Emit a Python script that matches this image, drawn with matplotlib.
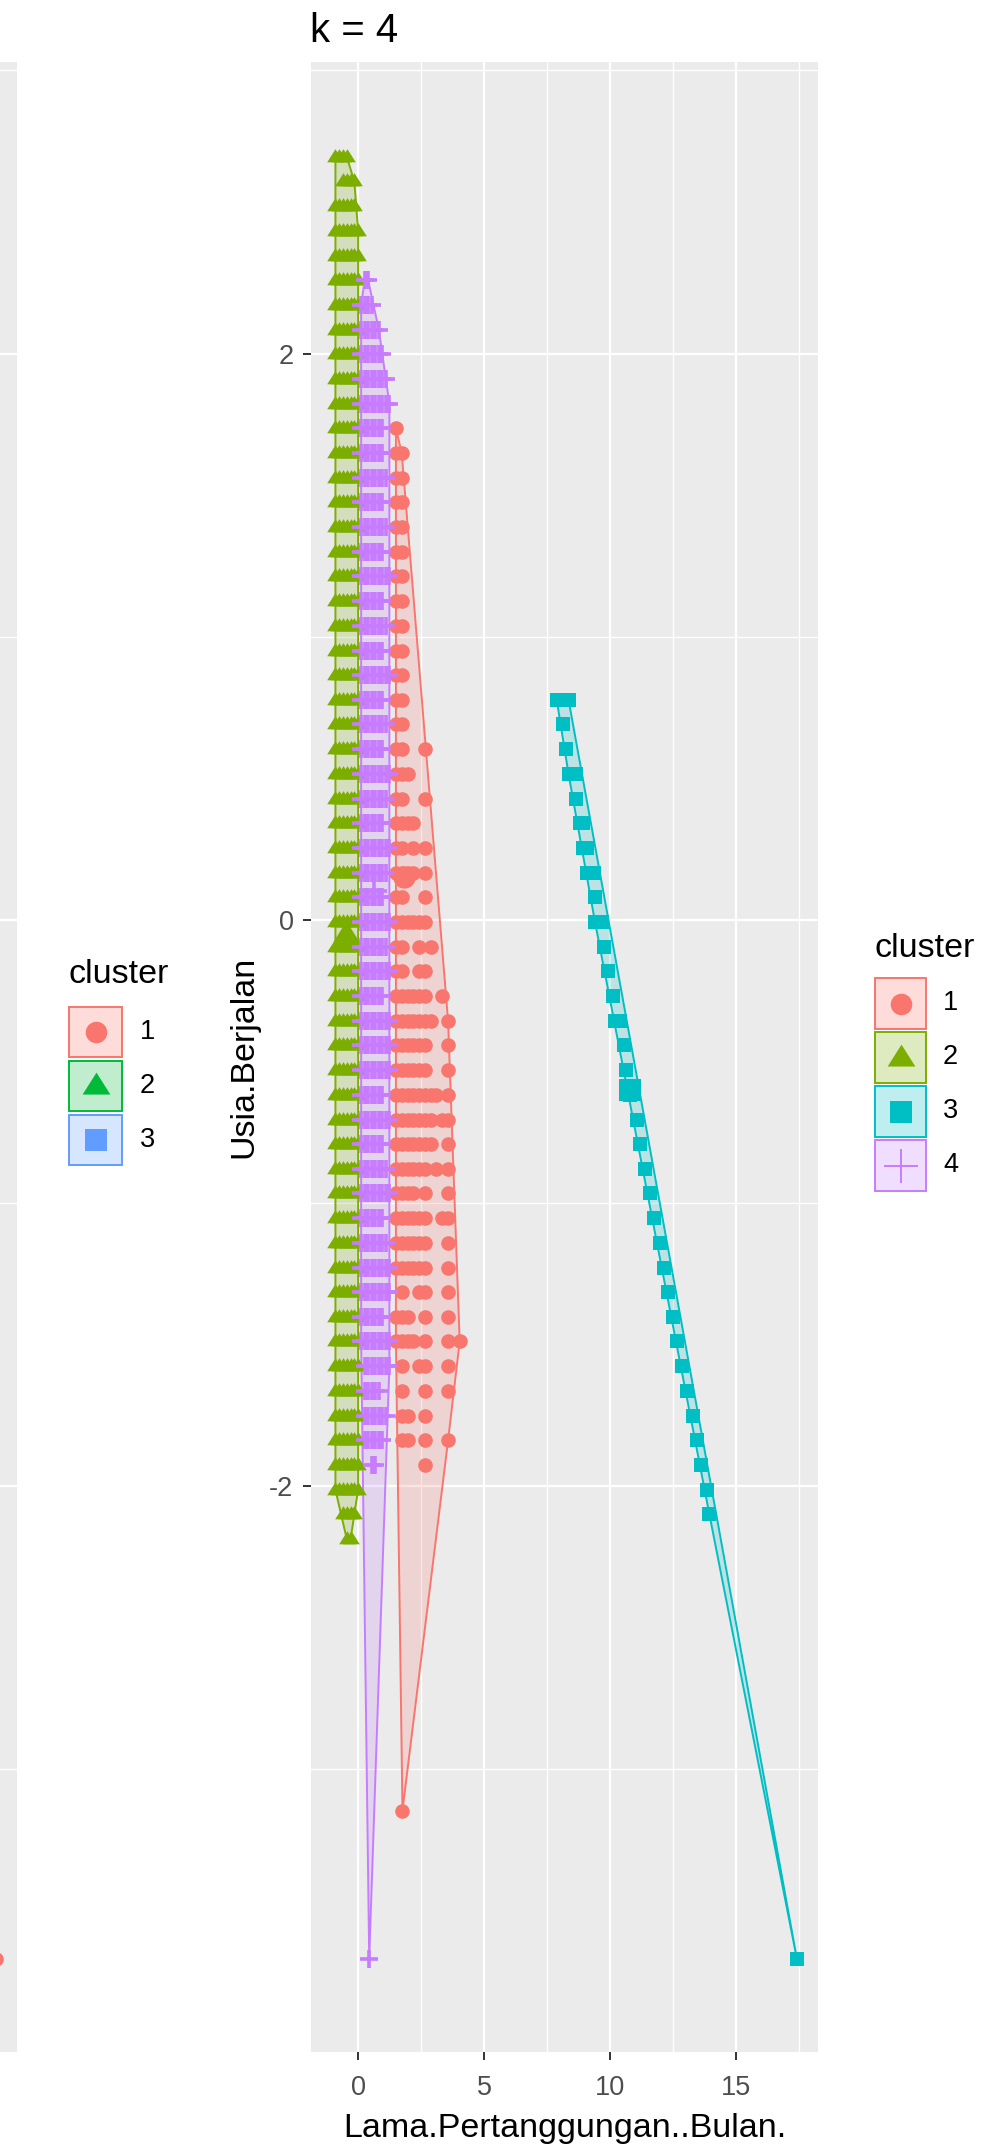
import matplotlib
matplotlib.use('Agg')
import matplotlib.pyplot as plt
import numpy as np
from matplotlib.colors import to_rgba
from matplotlib.patches import Polygon, Rectangle
from matplotlib.path import Path

plt.rcParams['font.family'] = ['Liberation Sans', 'DejaVu Sans']
plt.rcParams['axes.unicode_minus'] = False

# warna default ggplot (k = 4 dan k = 3)
WARNA = ['#F8766D', '#7CAE00', '#00BFC4', '#C77CFF']
WARNA_K3 = ['#F8766D', '#00BA38', '#619CFF']
KLASTER = ['1', '2', '3', '4']
KLASTER_K3 = ['1', '2', '3']

# tingkat Usia.Berjalan (terstandar), dari atas ke bawah
BARIS_Y = [2.695, 2.608, 2.521, 2.434, 2.346, 2.259, 2.172, 2.085, 1.998, 1.910,
           1.823, 1.736, 1.649, 1.562, 1.474, 1.387, 1.300, 1.213, 1.126, 1.038,
           0.951, 0.864, 0.777, 0.690, 0.602, 0.515, 0.428, 0.341, 0.254, 0.166,
           0.079, -0.008, -0.095, -0.182, -0.270, -0.357, -0.444, -0.531, -0.618, -0.706,
           -0.793, -0.880, -0.967, -1.054, -1.142, -1.229, -1.316, -1.403, -1.490, -1.578,
           -1.665, -1.752, -1.839, -1.926, -2.014, -2.101, -2.188]

# nilai Lama.Pertanggungan..Bulan. yang muncul di tiap klaster
X_MERAH = [1.50, 1.73, 1.96, 2.19, 2.42, 2.65, 2.88, 3.11, 3.34, 3.57, 3.80, 4.03]
X_HIJAU = [-0.90, -0.75, -0.60, -0.45, -0.30, -0.15, 0.00]
X_UNGU = [0.12, 0.26, 0.40, 0.54, 0.68, 0.82, 0.96, 1.10, 1.24]

# '1' = ada pengamatan pada baris / kolom itu
POLA_MERAH = (['000000000000'] * 11 + ['100000000000'] + ['110000000000'] * 12 + [
    '110001000000', '111000000000', '110001000000', '111100000000', '110101000000',
    '111101000000', '110001000000', '111111000000', '110010100000', '110011000000',
    '111111001000', '111111100100', '111111000100', '111111000100', '111111110100',
    '111111101100', '111111100100', '111111010100', '111101000100', '111111001100',
    '111111000100', '111111000100', '010011000100', '111001000100', '111101000101',
    '010011000100', '010001000100', '011001000000', '011001000100', '000001000000',
] + ['000000000000'] * 3)

POLA_HIJAU = ['1111000', '0011110', '1111110'] + ['1111111'] * 52 + ['0011110', '0001100']

POLA_UNGU = (['000000000'] * 5 + [
    '011000000', '111100000', '111111000', '111111100', '111111110', '111111111',
    '111111100', '111111100', '111111110', '111111100', '111111110', '111111100',
    '111111111', '111111100', '111111110', '111111100', '111111111', '111111100',
    '111111110', '111111100', '111111111', '111111110', '111111100', '111111111',
    '111111110', '111111100', '111111111', '111111110', '111111111', '111111100',
    '111111111', '111111111', '111111111', '111111100', '111111111', '111111100',
    '111111110', '111111111', '111111100', '111111110', '111111111', '111111111',
    '111111100', '111111111', '011111111', '011111000', '011111110', '011111100',
    '000110000',
] + ['000000000'] * 3)

# pengamatan di luar baris-baris di atas
MERAH_LAIN = [(1.76, -3.147)]
UNGU_LAIN = [(0.44, -3.670)]

CYAN_X = [7.88, 8.35, 8.15, 8.25, 8.35, 8.64, 8.65, 8.81, 8.92, 8.92, 9.10, 9.10, 9.38,
          9.42, 9.40, 9.67, 9.75, 9.93, 10.12, 10.20, 10.40, 10.54, 10.65, 10.78, 11.05,
          11.20, 11.38, 11.57, 11.75, 11.97, 12.12, 12.30, 12.50, 12.67, 12.87, 13.05,
          13.28, 13.44, 13.61, 13.84, 13.94, 17.41]
CYAN_Y = [0.777, 0.777, 0.690, 0.602, 0.515, 0.515, 0.428, 0.341, 0.341, 0.254, 0.254, 0.166, 0.166,
          0.079, -0.008, -0.008, -0.095, -0.182, -0.270, -0.357, -0.357, -0.444, -0.531, -0.618, -0.706,
          -0.793, -0.880, -0.967, -1.054, -1.142, -1.229, -1.316, -1.403, -1.490, -1.578, -1.665,
          -1.752, -1.839, -1.926, -2.014, -2.101, -3.670]

# pusat klaster
PUSAT_X = [1.83, -0.49, 10.80, 0.62]
PUSAT_Y = [0.15, -0.05, -0.60, 0.10]

# plot k = 3 di sebelahnya, hanya tepi kanannya yang masuk gambar
K3_X = [17.41]
K3_Y = [-3.670]

assert len(POLA_MERAH) == len(POLA_HIJAU) == len(POLA_UNGU) == len(BARIS_Y)


def ambil_titik(kolom, pola, lain=()):
    xs, ys = [], []
    for y, baris in zip(BARIS_Y, pola):
        for x, c in zip(kolom, baris):
            if c == '1':
                xs.append(x)
                ys.append(y)
    for x, y in lain:
        xs.append(x)
        ys.append(y)
    return xs, ys


def hull(xs, ys):
    pts = sorted(set(zip(xs, ys)))

    def cross(o, a, b):
        return (a[0] - o[0]) * (b[1] - o[1]) - (a[1] - o[1]) * (b[0] - o[0])

    bawah, atas = [], []
    for p in pts:
        while len(bawah) >= 2 and cross(bawah[-2], bawah[-1], p) <= 0:
            bawah.pop()
        bawah.append(p)
    for p in reversed(pts):
        while len(atas) >= 2 and cross(atas[-2], atas[-1], p) <= 0:
            atas.pop()
        atas.append(p)
    return np.array(bawah[:-1] + atas[:-1])


SEGITIGA = Path([(-0.5, -0.29), (0.5, -0.29), (0, 0.5), (-0.5, -0.29)],
                [Path.MOVETO, Path.LINETO, Path.LINETO, Path.CLOSEPOLY])
PENANDA = ['o', SEGITIGA, 's', '+']
UKURAN = [10.5, 12.0, 10.0, 13.0]
TEBAL_PLUS = 2.6
UKURAN_PUSAT = [16.0, 19.0, 16.0, 19.0]

data = [
    ambil_titik(X_MERAH, POLA_MERAH, MERAH_LAIN),
    ambil_titik(X_HIJAU, POLA_HIJAU),
    (CYAN_X, CYAN_Y),
    ambil_titik(X_UNGU, POLA_UNGU, UNGU_LAIN),
]

W, H = 992, 2149
L, R, T, B = 311, 818, 62, 2052


def kotak(x0):
    return [x0 / W, 1 - B / H, (R - L) / W, (B - T) / H]


fig = plt.figure(figsize=(W / 100, H / 100), dpi=100)
ax0 = fig.add_axes(kotak(17 - (R - L)))
ax = fig.add_axes(kotak(L))

for a in (ax0, ax):
    a.set_facecolor('#EBEBEB')
    a.set_xlim(-1.87, 18.25)
    a.set_ylim(-4.0, 3.03)
    a.set_xticks([0, 5, 10, 15])
    a.set_yticks([-2, 0, 2])
    a.set_xticks([2.5, 7.5, 12.5, 17.5], minor=True)
    a.set_yticks([-3, -1, 1, 3], minor=True)
    a.grid(which='major', color='white', lw=1.6)
    a.grid(which='minor', color='white', lw=1.0)
    a.set_axisbelow(True)
    for s in a.spines.values():
        s.set_visible(False)
    a.tick_params(which='minor', length=0)
    a.tick_params(which='major', length=6.1, width=1.4, color='#333333',
                  labelsize=19.5, labelcolor='#4D4D4D', pad=6.5)
ax.tick_params(axis='x', pad=10.5)
ax0.tick_params(left=False, bottom=False, labelleft=False, labelbottom=False)

ax0.plot(K3_X, K3_Y, ls='none', marker='o', ms=UKURAN[0], mew=0, color=WARNA_K3[0])

# convex hull tiap klaster
for (xs, ys), w in zip(data, WARNA):
    h = hull(xs, ys)
    ax.add_patch(Polygon(h, closed=True, facecolor=to_rgba(w, 0.2), edgecolor=w, lw=1.4, zorder=1))

for i, ((xs, ys), w) in enumerate(zip(data, WARNA)):
    lebar = TEBAL_PLUS if PENANDA[i] == '+' else 0
    ax.plot(xs, ys, ls='none', marker=PENANDA[i], ms=UKURAN[i], mew=lebar, color=w, zorder=2)

for i, w in enumerate(WARNA):
    lebar = TEBAL_PLUS if PENANDA[i] == '+' else 0
    ax.plot([PUSAT_X[i]], [PUSAT_Y[i]], ls='none', marker=PENANDA[i], ms=UKURAN_PUSAT[i],
            mew=lebar, color=w, zorder=3)

# teks judul, label sumbu, dan legenda digambar di lapisan piksel
lg = fig.add_axes([0, 0, 1, 1])
lg.set_xlim(0, W)
lg.set_ylim(H, 0)
lg.set_axis_off()

lg.text(310, 41.7, 'k = 4', fontsize=29, va='baseline', ha='left')
lg.text((L + R) / 2, 2137, 'Lama.Pertanggungan..Bulan.', fontsize=24.5, va='baseline', ha='center')
lg.text(244, (T + B) / 2, 'Usia.Berjalan', fontsize=24.5, rotation=90, va='center', ha='center')


def legenda(x0, y_judul, y0, lebar, tinggi, label, warna, penanda, ukuran, x_teks):
    lg.text(x0, y_judul, 'cluster', fontsize=24.5, va='baseline', ha='left')
    for i, (lab, w, m, s) in enumerate(zip(label, warna, penanda, ukuran)):
        y = y0 + i * 54
        lg.add_patch(Rectangle((x0, y), lebar, tinggi, facecolor=to_rgba(w, 0.25),
                               edgecolor=w, lw=1.4))
        mew = 1.4 if m == '+' else 0
        lg.plot([x0 + lebar / 2], [y + tinggi / 2], ls='none', marker=m, ms=s, mew=mew, color=w)
        lg.text(x_teks, y + tinggi / 2, lab, fontsize=19.5, va='center', ha='left')


legenda(69, 983, 1007, 53, 50, KLASTER_K3, WARNA_K3, ['o', SEGITIGA, 's'],
        [15.5, 20, 15.5], 140)
legenda(875, 957, 978, 51, 51, KLASTER, WARNA, PENANDA, [15.5, 20, 15.5, 24], 943)

fig.savefig('out.png', dpi=100)
